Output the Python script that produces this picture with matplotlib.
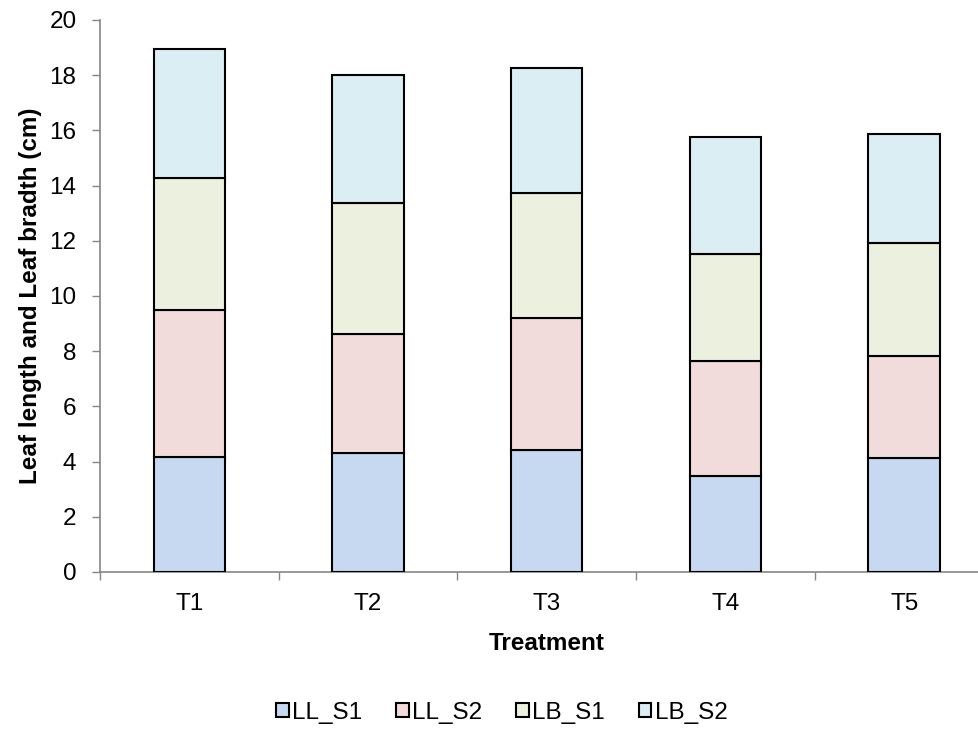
import matplotlib

matplotlib.use("Agg")
import matplotlib.pyplot as plt
import numpy as np

plt.rcParams["font.family"] = ["Liberation Sans", "DejaVu Sans"]

treatments = ["T1", "T2", "T3", "T4", "T5"]
series_names = ["LL_S1", "LL_S2", "LB_S1", "LB_S2"]
ll_s1 = [4.16, 4.32, 4.41, 3.49, 4.12]
ll_s2 = [5.33, 4.30, 4.81, 4.16, 3.71]
lb_s1 = [4.80, 4.76, 4.53, 3.86, 4.10]
lb_s2 = [4.66, 4.61, 4.52, 4.25, 3.93]
colors = ["#C6D9F1", "#F2DCDB", "#EBF1DE", "#DBEEF4"]

FS = 17.5

fig = plt.figure(figsize=(9.79, 7.29), dpi=100)
# axes runs off the right edge like in the source image
ax = fig.add_axes([100 / 979, 1 - 572 / 729, 893.5 / 979, 552 / 729])

x = np.arange(len(treatments))
bottom = np.zeros(len(treatments))
for name, vals, col in zip(series_names, [ll_s1, ll_s2, lb_s1, lb_s2], colors):
    ax.bar(x, vals, width=0.4, bottom=bottom, color=col, edgecolor="black",
           linewidth=1.5, label=name, zorder=3)
    bottom += np.array(vals)

ax.set_xlim(-0.5, len(treatments) - 0.5)
ax.set_ylim(0, 20)
ax.set_yticks(np.arange(0, 21, 2))
ax.set_xticks(x)
ax.set_xticklabels(treatments)
ax.set_xticks(np.arange(-0.5, len(treatments), 1), minor=True)
ax.tick_params(axis="x", which="major", length=0, labelsize=FS, pad=15)
ax.tick_params(axis="x", which="minor", length=6, width=1, color="#868686", direction="out")
ax.tick_params(axis="y", length=6, width=1, color="#868686", labelsize=FS, direction="out", pad=11)

for side in ["top", "right"]:
    ax.spines[side].set_visible(False)
for side in ["left", "bottom"]:
    ax.spines[side].set_color("#868686")
    ax.spines[side].set_linewidth(1.2)

ax.set_ylabel("Leaf length and Leaf bradth (cm)", fontsize=FS, fontweight="bold", labelpad=5)
ax.set_xlabel("Treatment", fontsize=FS, fontweight="bold", labelpad=12)

fig.legend(loc="center", bbox_to_anchor=(502 / 979, 1 - 713 / 729), ncol=4, frameon=False,
           fontsize=FS, handlelength=0.5, handleheight=0.5, handletextpad=0.15,
           columnspacing=1.4)

fig.savefig("out.png", dpi=100)
